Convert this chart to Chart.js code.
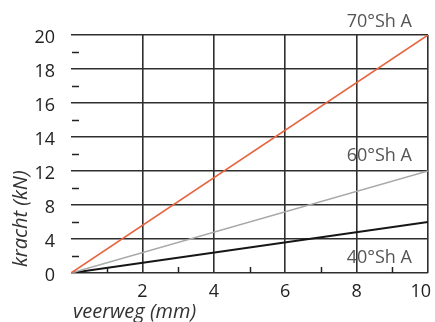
<!DOCTYPE html>
<html>
<head>
<meta charset="utf-8">
<script src="https://cdn.jsdelivr.net/npm/chart.js@4"></script>
<style>
  html, body { margin: 0; padding: 0; background: #fff; }
  canvas { display: block; }
</style>
</head>
<body>
<canvas id="chart" width="435" height="322"></canvas>
<script>
// --- Data ---
const xValues = [0, 10];
const shore70 = [0, 20];
const shore60 = [0, 12];
const shore40 = [0, 6];
const seriesNames = ['70°Sh A', '60°Sh A', '40°Sh A'];
const xTickLabels = ['2', '4', '6', '8', '10'];
const yTickLabels = ['0', '4', '8', '12', '14', '16', '18', '20'];

// the y axis is broken: 0-12 in steps of 4, then 12-20 in steps of 2
function toStep(v) {
    return v <= 12 ? v / 4 : 3 + (v - 12) / 2;
}
function pts(ys) {
    return xValues.map((x, i) => ({ x: x, y: toStep(ys[i]) }));
}

const FONT = '"Open Sans", "Noto Sans", sans-serif';

const extras = {
    id: 'extras',
    afterDraw(chart) {
        const ctx = chart.ctx;
        const xs = chart.scales.x, ys = chart.scales.y;
        const area = chart.chartArea;
        ctx.save();

        // minor ticks
        ctx.strokeStyle = '#222';
        ctx.lineWidth = 1.5;
        for (let s = 0.5; s < 7; s += 1) {
            const py = Math.round(ys.getPixelForValue(s)) + 0.5;
            ctx.beginPath();
            ctx.moveTo(area.left + 1, py);
            ctx.lineTo(area.left + 8, py);
            ctx.stroke();
        }
        for (let v = 1; v < 10; v += 2) {
            const px = Math.round(xs.getPixelForValue(v)) + 0.5;
            ctx.beginPath();
            ctx.moveTo(px, area.bottom);
            ctx.lineTo(px, area.bottom - 6);
            ctx.stroke();
        }

        // x tick labels (last one kept inside the canvas)
        ctx.fillStyle = '#222';
        ctx.font = '18px ' + FONT;
        ctx.textBaseline = 'middle';
        xTickLabels.forEach((lab, i) => {
            const px = xs.getPixelForValue(Number(lab));
            const last = i === xTickLabels.length - 1;
            ctx.textAlign = last ? 'right' : 'center';
            ctx.fillText(lab, last ? px + 3 : px, area.bottom + 19);
        });

        // axis titles
        ctx.fillStyle = '#333';
        ctx.font = 'italic 20px ' + FONT;
        ctx.textAlign = 'left';
        ctx.textBaseline = 'alphabetic';
        ctx.fillText('veerweg (mm)', area.left + 2, 318);

        ctx.save();
        ctx.translate(27, area.bottom - 6);
        ctx.rotate(-Math.PI / 2);
        ctx.fillText('kracht (kN)', 0, 0);
        ctx.restore();

        // series annotations
        const annoSteps = [7.4, 3.45, 0.44];
        ctx.fillStyle = '#555';
        ctx.font = '18px ' + FONT;
        ctx.textAlign = 'right';
        ctx.textBaseline = 'middle';
        seriesNames.forEach((n, i) => {
            ctx.fillText(n, xs.getPixelForValue(9.55), ys.getPixelForValue(annoSteps[i]));
        });

        ctx.restore();
    }
};

new Chart(document.getElementById('chart'), {
    type: 'line',
    data: {
        datasets: [
            { label: seriesNames[0], data: pts(shore70), borderColor: '#e8643c', borderWidth: 1.6 },
            { label: seriesNames[1], data: pts(shore60), borderColor: '#a9a9a9', borderWidth: 1.6 },
            { label: seriesNames[2], data: pts(shore40), borderColor: '#151515', borderWidth: 2 }
        ]
    },
    options: {
        responsive: false,
        animation: false,
        devicePixelRatio: 1,
        elements: { point: { radius: 0 }, line: { tension: 0 } },
        layout: { padding: { top: 35, right: 7, left: 0, bottom: 0 } },
        plugins: { legend: { display: false }, tooltip: { enabled: false } },
        scales: {
            x: {
                type: 'linear',
                min: 0,
                max: 10,
                ticks: { stepSize: 2, display: false },
                grid: {
                    color: c => c.tick && c.tick.value === 0 ? 'rgba(0,0,0,0)' : '#2e2e2e',
                    lineWidth: 1.6,
                    drawTicks: false
                },
                border: { display: false },
                afterFit: s => { s.height = 49; }
            },
            y: {
                type: 'linear',
                min: 0,
                max: 7,
                ticks: {
                    stepSize: 1,
                    padding: 16,
                    labelOffset: 3,
                    color: '#222',
                    font: { family: FONT, size: 18 },
                    callback: v => yTickLabels[v]
                },
                grid: { color: '#2e2e2e', lineWidth: 1.6, drawTicks: false },
                border: { display: false },
                afterFit: s => { s.width = 71; }
            }
        }
    },
    plugins: [extras]
});
</script>
</body>
</html>
